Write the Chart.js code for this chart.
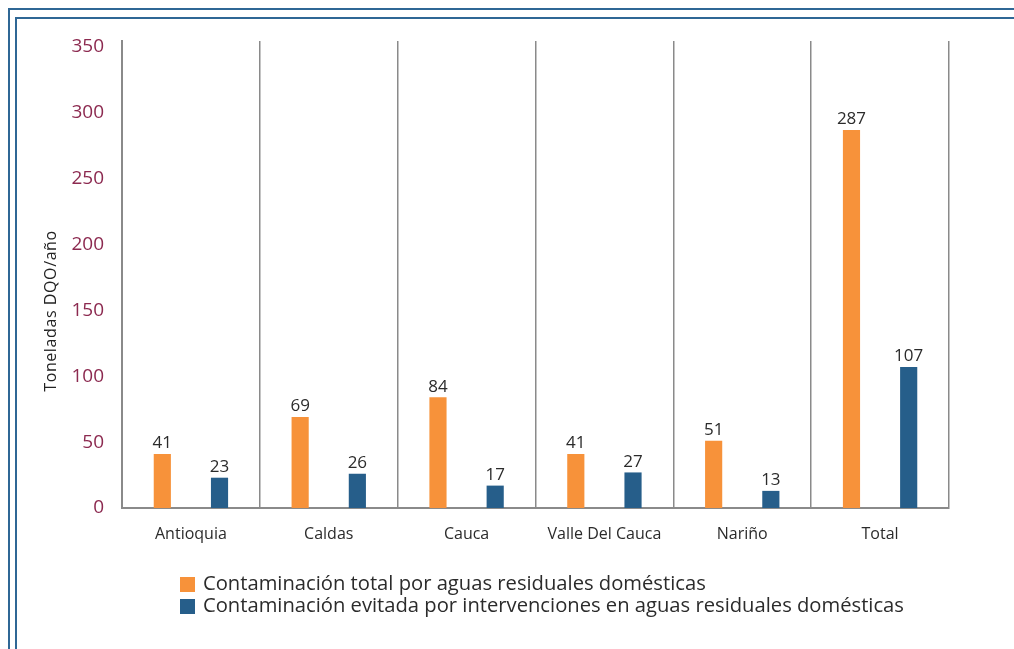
<!DOCTYPE html>
<html>
<head>
<meta charset="utf-8">
<script src="https://cdn.jsdelivr.net/npm/chart.js@4/dist/chart.umd.min.js"></script>
<style>
  body { margin: 0; background: #fff; }
  #wrap { position: relative; width: 1014px; height: 649px; overflow: hidden; }
  .frame { position: absolute; border-left: 2px solid #2f6795; border-top: 2px solid #2f6795; width: 2000px; height: 2000px; }
  #f1 { left: 8px; top: 8px; }
  #f2 { left: 15px; top: 17px; }
  canvas { position: absolute; left: 0; top: 0; }
</style>
</head>
<body>
<div id="wrap">
  <div class="frame" id="f1"></div>
  <div class="frame" id="f2"></div>
  <canvas id="myChart" width="1014" height="649"></canvas>
</div>
<script>
const categories = ['Antioquia', 'Caldas', 'Cauca', 'Valle Del Cauca', 'Nariño', 'Total'];
const totalValues = [41, 69, 84, 41, 51, 287];
const avoidedValues = [23, 26, 17, 27, 13, 107];
const seriesNames = [
  'Contaminación total por aguas residuales domésticas',
  'Contaminación evitada por intervenciones en aguas residuales domésticas'
];
const seriesColors = ['#f7923a', '#265e8a'];
const yTitle = 'Toneladas DQO/año';

const font = "'Open Sans', 'Noto Sans', sans-serif";

// value labels above bars + y title + legend
const extras = {
  id: 'extras',
  afterDatasetsDraw(chart) {
    const c = chart.ctx;
    c.save();
    c.font = '17px ' + font;
    c.fillStyle = '#2b2b2b';
    c.textAlign = 'center';
    c.textBaseline = 'bottom';
    chart.data.datasets.forEach((ds, i) => {
      chart.getDatasetMeta(i).data.forEach((bar, j) => {
        c.fillText(ds.data[j], bar.x, bar.y - 2);
      });
    });
    c.restore();
  },
  afterDraw(chart) {
    const c = chart.ctx;
    c.save();
    c.translate(51, 311);
    c.rotate(-Math.PI / 2);
    c.font = '16px ' + font;
    c.letterSpacing = '0.6px';
    c.fillStyle = '#222';
    c.textAlign = 'center';
    c.textBaseline = 'middle';
    c.fillText(yTitle, 0, 0);
    c.restore();

    c.save();
    c.font = '20.2px ' + font;
    c.textBaseline = 'middle';
    seriesNames.forEach((name, i) => {
      const y = 584 + i * 22;
      c.fillStyle = seriesColors[i];
      c.fillRect(180, y - 7, 15, 15);
      c.fillStyle = '#2b2b2b';
      c.fillText(name, 203, y);
    });
    c.restore();
  }
};

new Chart(document.getElementById('myChart').getContext('2d'), {
  type: 'bar',
  data: {
    labels: categories,
    datasets: [
      { label: seriesNames[0], data: totalValues, backgroundColor: seriesColors[0] },
      { label: seriesNames[1], data: avoidedValues, backgroundColor: seriesColors[1] }
    ]
  },
  options: {
    responsive: false,
    animation: false,
    barPercentage: 0.3,
    categoryPercentage: 0.83,
    layout: { padding: { left: 0, top: 41, right: 65, bottom: 0 } },
    plugins: {
      legend: { display: false },
      tooltip: { enabled: false }
    },
    scales: {
      x: {
        afterFit: s => { s.height = 141; },
        grid: { offset: true, color: '#8a8a8a', lineWidth: 1.5, drawTicks: false },
        border: { color: '#8a8a8a', width: 2 },
        ticks: {
          padding: 17,
          color: '#2b2b2b',
          font: { size: 16, family: font }
        }
      },
      y: {
        min: 0,
        max: 354.5,
        afterFit: s => { s.width = 122; },
        grid: { display: false, drawTicks: false },
        border: { color: '#8a8a8a', width: 2 },
        ticks: {
          stepSize: 50,
          includeBounds: false,
          padding: 18,
          color: '#8c2a50',
          font: { size: 19, family: font }
        }
      }
    }
  },
  plugins: [extras]
});
</script>
</body>
</html>
